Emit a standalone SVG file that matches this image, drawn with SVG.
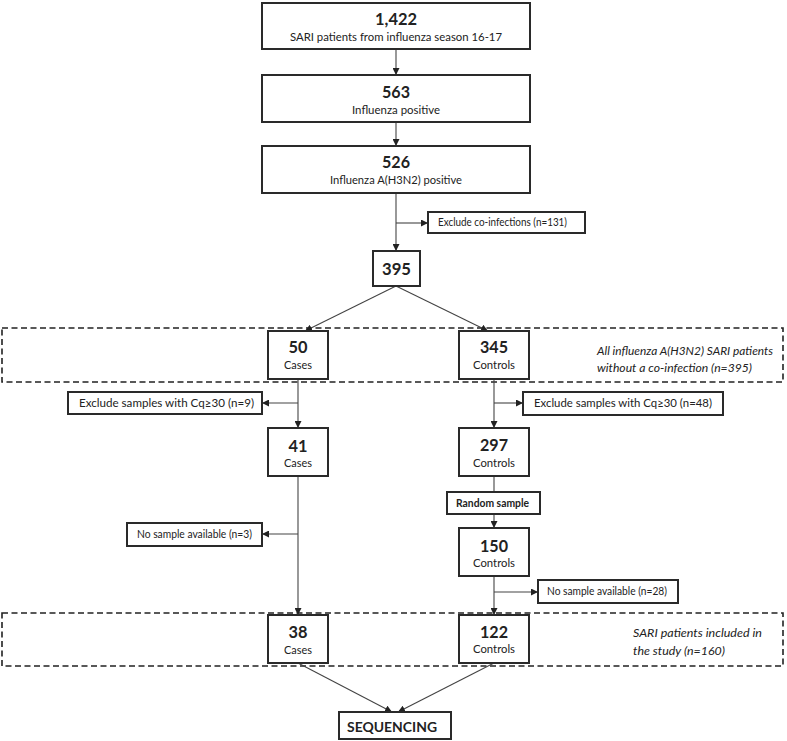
<svg xmlns="http://www.w3.org/2000/svg" width="787" height="741" viewBox="0 0 787 741">
<defs>
<marker id="ah" viewBox="0 0 10 10" refX="10" refY="5" markerWidth="7" markerHeight="7" markerUnits="userSpaceOnUse" orient="auto">
<path d="M0,0 L10,5 L0,10 z" fill="#222"/>
</marker>
<style>
.box{fill:#fff;stroke:#2a2a2a;stroke-width:2}
.dash{fill:none;stroke:#222;stroke-width:1.6;stroke-dasharray:6 3.5}
.ln{fill:none;stroke:#444;stroke-width:1.1}
.ar{fill:none;stroke:#444;stroke-width:1.1;marker-end:url(#ah)}
text{font-family:Lato,"Open Sans","Liberation Sans",sans-serif;fill:#222}
.num{font-size:17px;font-weight:bold}
.sub{font-size:12px}
.sm{font-size:10.8px}
.it{font-size:11.8px;font-style:italic}
.rb{font-size:10.5px;font-weight:bold}
.seq{font-size:14px;font-weight:bold}
</style>
</defs>
<rect class="dash" x="2" y="328" width="781" height="54"/>
<rect class="dash" x="2" y="613" width="781" height="53"/>
<g id="connectors">
<line class="ar" x1="396" y1="49" x2="396" y2="75"/>
<line class="ar" x1="396" y1="122" x2="396" y2="146"/>
<line class="ar" x1="396" y1="193" x2="396" y2="251"/>
<line class="ar" x1="396" y1="223" x2="428" y2="223"/>
<line class="ar" x1="396" y1="286" x2="305" y2="331"/>
<line class="ar" x1="396" y1="286" x2="488" y2="331"/>
<line class="ar" x1="298" y1="379" x2="298" y2="428"/>
<line class="ar" x1="298" y1="403" x2="262" y2="403"/>
<line class="ar" x1="494" y1="379" x2="494" y2="428"/>
<line class="ar" x1="494" y1="403" x2="523" y2="403"/>
<line class="ar" x1="298" y1="476" x2="298" y2="615"/>
<line class="ar" x1="298" y1="534" x2="262" y2="534"/>
<line class="ln" x1="494" y1="476" x2="494" y2="492"/>
<line class="ar" x1="494" y1="514" x2="494" y2="528"/>
<line class="ar" x1="494" y1="576" x2="494" y2="615"/>
<line class="ar" x1="494" y1="592" x2="538" y2="592"/>
<line class="ar" x1="298" y1="663" x2="392" y2="712"/>
<line class="ar" x1="494" y1="663" x2="398" y2="712"/>
</g>
<g id="n1422"><rect class="box" x="262" y="3" width="268" height="46"/><text class="num" x="375" y="25" textLength="42" lengthAdjust="spacingAndGlyphs">1,422</text><text class="sub" x="290" y="41" textLength="212" lengthAdjust="spacingAndGlyphs">SARI patients from influenza season 16-17</text></g>
<g id="n563"><rect class="box" x="262" y="75" width="268" height="47"/><text class="num" x="382" y="98" textLength="28" lengthAdjust="spacingAndGlyphs">563</text><text class="sub" x="352" y="114" textLength="88" lengthAdjust="spacingAndGlyphs">Influenza positive</text></g>
<g id="n526"><rect class="box" x="262" y="146" width="268" height="47"/><text class="num" x="382" y="168" textLength="28" lengthAdjust="spacingAndGlyphs">526</text><text class="sub" x="330" y="184" textLength="132" lengthAdjust="spacingAndGlyphs">Influenza A(H3N2) positive</text></g>
<g id="exco"><rect class="box" x="428" y="212" width="157" height="21"/><text class="sm" x="438" y="226" textLength="129" lengthAdjust="spacingAndGlyphs">Exclude co-infections (n=131)</text></g>
<g id="n395"><rect class="box" x="373" y="251" width="47" height="35"/><text class="num" x="382" y="275" textLength="29" lengthAdjust="spacingAndGlyphs">395</text></g>
<g id="n50"><rect class="box" x="268" y="331" width="60" height="48"/><text class="num" x="288.5" y="353" textLength="19" lengthAdjust="spacingAndGlyphs">50</text><text class="sub" x="284" y="369" textLength="28" lengthAdjust="spacingAndGlyphs">Cases</text></g>
<g id="n345"><rect class="box" x="459" y="331" width="70" height="48"/><text class="num" x="480" y="353" textLength="28" lengthAdjust="spacingAndGlyphs">345</text><text class="sub" x="473" y="369" textLength="42" lengthAdjust="spacingAndGlyphs">Controls</text></g>
<g id="lbl1"><text class="it" x="597" y="355" textLength="176" lengthAdjust="spacingAndGlyphs">All influenza A(H3N2) SARI patients</text><text class="it" x="597" y="372" textLength="155" lengthAdjust="spacingAndGlyphs">without a co-infection (n=395)</text></g>
<g id="excq9"><rect class="box" x="68" y="392" width="194" height="22"/><text class="sm" x="79" y="407" textLength="175" lengthAdjust="spacingAndGlyphs">Exclude samples with Cq≥30 (n=9)</text></g>
<g id="excq48"><rect class="box" x="523" y="392" width="200" height="23"/><text class="sm" x="534" y="407" textLength="178" lengthAdjust="spacingAndGlyphs">Exclude samples with Cq≥30 (n=48)</text></g>
<g id="n41"><rect class="box" x="268" y="428" width="60" height="48"/><text class="num" x="288.5" y="452" textLength="19" lengthAdjust="spacingAndGlyphs">41</text><text class="sub" x="284" y="467" textLength="28" lengthAdjust="spacingAndGlyphs">Cases</text></g>
<g id="n297"><rect class="box" x="459" y="428" width="70" height="48"/><text class="num" x="480" y="451" textLength="28" lengthAdjust="spacingAndGlyphs">297</text><text class="sub" x="473" y="467" textLength="42" lengthAdjust="spacingAndGlyphs">Controls</text></g>
<g id="random"><rect class="box" x="447" y="492" width="93" height="22"/><text class="rb" x="456" y="507" textLength="73" lengthAdjust="spacingAndGlyphs">Random sample</text></g>
<g id="nosample3"><rect class="box" x="127" y="523" width="135" height="23"/><text class="sm" x="137" y="538" textLength="115" lengthAdjust="spacingAndGlyphs">No sample available (n=3)</text></g>
<g id="n150"><rect class="box" x="459" y="528" width="70" height="48"/><text class="num" x="480" y="552" textLength="28" lengthAdjust="spacingAndGlyphs">150</text><text class="sub" x="473" y="567" textLength="42" lengthAdjust="spacingAndGlyphs">Controls</text></g>
<g id="nosample28"><rect class="box" x="538" y="580" width="140" height="23"/><text class="sm" x="547" y="595" textLength="120" lengthAdjust="spacingAndGlyphs">No sample available (n=28)</text></g>
<g id="n38"><rect class="box" x="268" y="615" width="60" height="48"/><text class="num" x="288.5" y="638" textLength="19" lengthAdjust="spacingAndGlyphs">38</text><text class="sub" x="284" y="654" textLength="28" lengthAdjust="spacingAndGlyphs">Cases</text></g>
<g id="n122"><rect class="box" x="459" y="615" width="70" height="48"/><text class="num" x="480" y="638" textLength="28" lengthAdjust="spacingAndGlyphs">122</text><text class="sub" x="473" y="653" textLength="42" lengthAdjust="spacingAndGlyphs">Controls</text></g>
<g id="lbl2"><text class="it" x="633" y="637" textLength="129" lengthAdjust="spacingAndGlyphs">SARI patients included in</text><text class="it" x="633" y="655" textLength="92" lengthAdjust="spacingAndGlyphs">the study (n=160)</text></g>
<g id="seq"><rect class="box" x="339" y="712" width="112" height="27"/><text class="seq" x="347" y="732" textLength="90" lengthAdjust="spacingAndGlyphs">SEQUENCING</text></g>
</svg>
